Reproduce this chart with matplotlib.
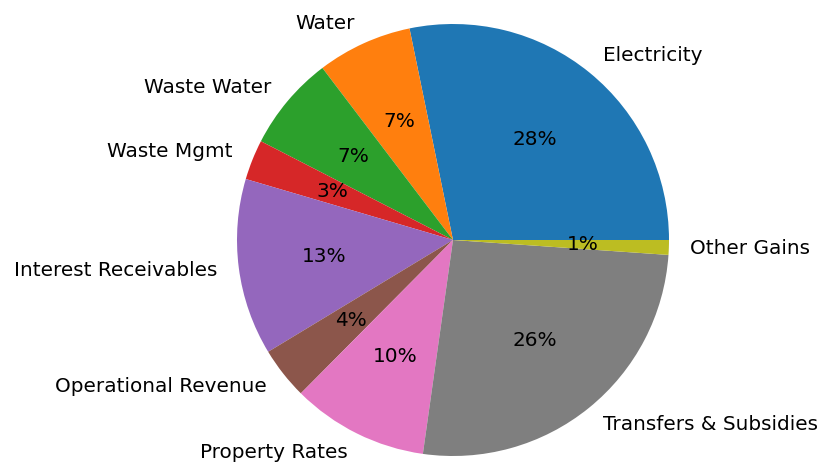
import matplotlib
matplotlib.use("Agg")
import matplotlib.pyplot as plt

# Revenue breakdown (share of total, %)
categories = ["Electricity", "Water", "Waste Water", "Waste Mgmt",
              "Interest Receivables", "Operational Revenue", "Property Rates",
              "Transfers & Subsidies", "Other Gains"]
shares = [28.2, 7.1, 7.1, 3.0, 13.2, 3.9, 10.2, 26.1, 1.1]

W, H = 822, 467
fig = plt.figure(figsize=(W / 100, H / 100), dpi=100)
ax = fig.add_axes([0, 0, 1, 1])

ax.pie(shares, labels=categories, autopct="%1.0f%%",
       textprops={"fontsize": 14.4})

# place the pie: centre at (453, 240) px from the top-left, radius 216 px
cx, cy, r = 453, 240, 216
ax.set_aspect("auto")
ax.set_xlim(-cx / r, (W - cx) / r)
ax.set_ylim(-(H - cy) / r, cy / r)
ax.axis("off")

fig.savefig("out.png", dpi=100)
